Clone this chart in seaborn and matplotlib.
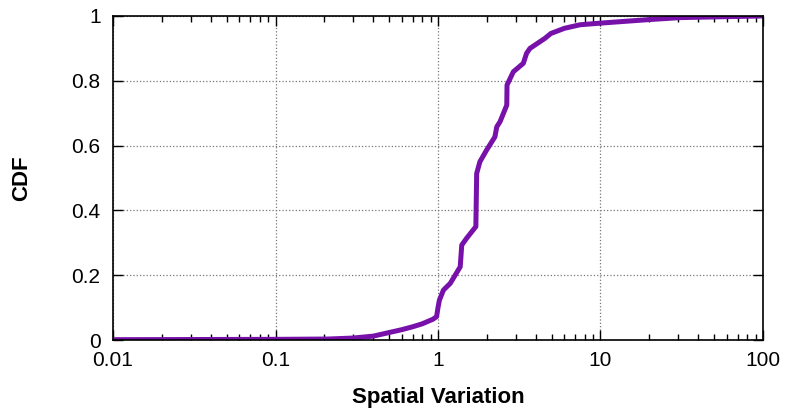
import matplotlib
matplotlib.use('Agg')
import matplotlib.pyplot as plt
import matplotlib.ticker as mticker
import seaborn as sns
import pandas as pd

# CDF of spatial variation
variation = [0.01, 0.1, 0.21, 0.3, 0.4, 0.5, 0.6, 0.7, 0.8, 0.93, 0.98, 1.0, 1.02,
             1.08, 1.19, 1.37, 1.40, 1.50, 1.71, 1.73, 1.81, 1.99, 2.24, 2.30,
             2.41, 2.65, 2.66, 2.91, 3.35, 3.51, 3.68, 4.55, 4.95, 6.0, 7.5,
             10, 20, 31, 60, 100]
cdf = [0.001, 0.002, 0.003, 0.006, 0.012, 0.023, 0.032, 0.041, 0.05, 0.064, 0.072,
       0.1, 0.123, 0.154, 0.175, 0.226, 0.293, 0.314, 0.35, 0.514, 0.55, 0.586,
       0.627, 0.658, 0.674, 0.725, 0.787, 0.828, 0.854, 0.885, 0.9, 0.931,
       0.946, 0.962, 0.973, 0.978, 0.989, 0.995, 0.998, 1.0]

df = pd.DataFrame({'Spatial Variation': variation, 'CDF': cdf})

sns.set_style('ticks')
plt.rcParams['font.family'] = ['Liberation Sans', 'DejaVu Sans']
plt.rcParams['text.color'] = 'black'
plt.rcParams['axes.labelcolor'] = 'black'
plt.rcParams['xtick.color'] = 'black'
plt.rcParams['ytick.color'] = 'black'

fig = plt.figure(figsize=(7.86, 4.09), dpi=100)
ax = fig.add_axes([0.1438, 0.1687, 0.8269, 0.7922])

sns.lineplot(data=df, x='Spatial Variation', y='CDF', estimator=None, sort=False,
             color='#7711aa', linewidth=3.6, ax=ax)

ax.set_xscale('log')
ax.set_xlim(0.01, 100)
ax.set_ylim(0, 1)
ax.xaxis.set_major_locator(mticker.LogLocator(base=10, numticks=10))
ax.xaxis.set_minor_locator(mticker.LogLocator(base=10, subs=range(2, 10), numticks=10))
ax.xaxis.set_minor_formatter(mticker.NullFormatter())
ax.xaxis.set_major_formatter(mticker.FuncFormatter(lambda v, p: f'{v:g}'))
ax.set_yticks([0, 0.2, 0.4, 0.6, 0.8, 1.0])
ax.set_yticklabels(['0', '0.2', '0.4', '0.6', '0.8', '1'])

ax.grid(True, which='major', linestyle=':', color='#777777', linewidth=0.9)
ax.tick_params(which='both', direction='in', top=True, right=True, labelsize=15)
ax.tick_params(which='major', length=7, width=1)
ax.tick_params(which='minor', length=4, width=1)
ax.tick_params(axis='x', which='major', pad=8)
ax.tick_params(axis='y', which='major', pad=9)
for s in ax.spines.values():
    s.set_linewidth(1.2)
    s.set_color('black')

ax.set_xlabel('Spatial Variation', fontsize=16, fontweight='bold', labelpad=12)
ax.set_ylabel('CDF', fontsize=16, fontweight='bold', labelpad=28)

fig.savefig('out.png', dpi=100)
